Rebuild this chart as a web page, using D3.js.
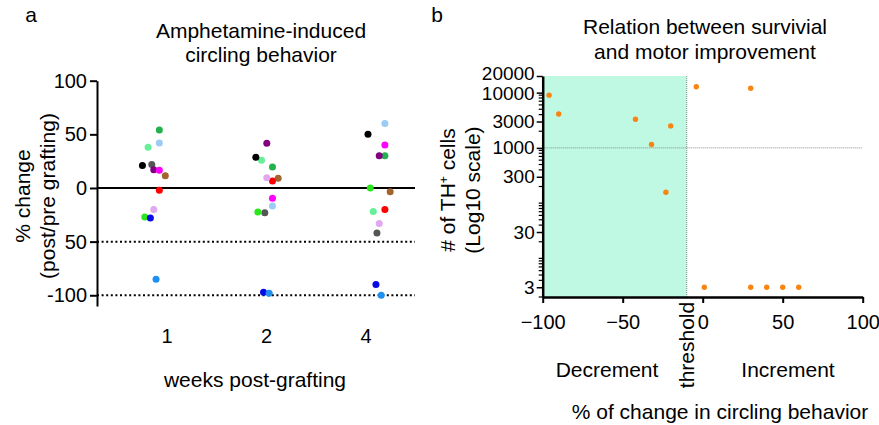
<!DOCTYPE html>
<html>
<head>
<meta charset="utf-8">
<script src="https://cdn.jsdelivr.net/npm/d3@7"></script>
<style>
  body { margin: 0; background: #fff; }
  text { font-family: "Liberation Sans", Arial, sans-serif; fill: #000; }
</style>
</head>
<body>
<div id="chart"></div>
<script>
// ---- panel a data: % change per animal, per week ----
const weeks = ["1", "2", "4"];
const animalColors = ["#22b14c", "#66f09a", "#9ccbf5", "#000000", "#555555", "#800080",
                      "#ff00ff", "#a2652f", "#ff0000", "#e0a8f0", "#2be61c", "#0a0ae6", "#2090f0"];
const week1 = [54, 38, 42, 21, 22, 17, 16.5, 11.5, -2, -20, -27, -28, -85];
const week2 = [19.6, 25.8, -16.8, 28.6, -23, 41.7, -9.6, 9, 6.5, 9.6, -22.4, -97.3, -98];
const week4 = [30, -22, 60, 50, -42, 30, 40, -3.4, -20, -33, 0, -90, -100];
// horizontal jitter, in fractions of a category step
const jitter1 = [-0.077, -0.19, -0.077, -0.247, -0.153, -0.133, -0.077, -0.017, -0.077, -0.133, -0.223, -0.167, -0.11];
const jitter2 = [0.06, -0.05, 0.06, -0.107, -0.017, 0.003, 0.06, 0.117, 0.06, 0.003, -0.087, -0.03, 0.027];
const jitter4 = [0.19, 0.073, 0.19, 0.02, 0.11, 0.133, 0.19, 0.243, 0.19, 0.133, 0.043, 0.10, 0.153];
const aTicks = [100, 50, 0, -50, -100];
const aTickLabels = ["100", "50", "0", "50", "-100"];
const aRefLines = [-50, -100];

// ---- panel b data: circling change vs TH+ cells ----
const survX = [-96, -90, -42, -32, -20, -23, -4, 30, 1, 30, 40, 50, 60];
const survY = [9000, 4100, 3300, 1150, 2500, 157, 12800, 12000, 3, 3, 3, 3, 3];
const bXTicks = [-100, -50, 0, 50, 100];
const bYTicks = [3, 30, 300, 1000, 3000, 10000, 20000];
const threshold = -10;
const cellLine = 1000;

const W = 879, H = 425;
const svg = d3.select("#chart").append("svg").attr("width", W).attr("height", H);

// ================= panel a =================
const ya = d3.scaleLinear().domain([-110, 100]).range([306, 80.7]);
const xa = d3.scalePoint().domain(weeks).range([167, 366]);
const step = xa.step();
const aLeft = 97, aRight = 415;

svg.append("text").attr("x", 31).attr("y", 22).attr("text-anchor", "middle")
  .style("font-size", "21px").text("a");
svg.append("text").attr("x", 261).attr("y", 38).attr("text-anchor", "middle")
  .style("font-size", "21px").text("Amphetamine-induced");
svg.append("text").attr("x", 261).attr("y", 62).attr("text-anchor", "middle")
  .style("font-size", "21px").text("circling behavior");

// reference lines
svg.selectAll(".refA").data(aRefLines).enter().append("line")
  .attr("x1", aLeft).attr("x2", aRight)
  .attr("y1", d => ya(d)).attr("y2", d => ya(d))
  .attr("stroke", "#000").attr("stroke-width", 2).attr("stroke-dasharray", "2,2.6");
svg.append("line").attr("x1", aLeft).attr("x2", aRight)
  .attr("y1", ya(0)).attr("y2", ya(0)).attr("stroke", "#000").attr("stroke-width", 2);

// y axis
const yAxisA = svg.append("g").attr("transform", `translate(${aLeft},0)`)
  .call(d3.axisLeft(ya).tickValues(aTicks).tickFormat((d, i) => aTickLabels[i])
    .tickSize(7).tickSizeOuter(0).tickPadding(3));
yAxisA.select(".domain").attr("stroke-width", 2);
yAxisA.selectAll(".tick line").attr("stroke-width", 2);
yAxisA.selectAll("text").style("font-size", "20px").attr("font-family", "Liberation Sans");

svg.append("text").attr("transform", "translate(23,196) rotate(-90)")
  .attr("text-anchor", "middle").attr("dy", "0.35em").style("font-size", "21px").text("% change");
svg.append("text").attr("transform", "translate(48,196) rotate(-90)")
  .attr("text-anchor", "middle").attr("dy", "0.35em").style("font-size", "21px").text("(post/pre grafting)");

// x tick labels (no axis line)
svg.selectAll(".wk").data(weeks).enter().append("text")
  .attr("x", d => xa(d)).attr("y", 343).attr("text-anchor", "middle")
  .style("font-size", "20px").text(d => d);
svg.append("text").attr("x", 255).attr("y", 387).attr("text-anchor", "middle")
  .style("font-size", "21px").text("weeks post-grafting");

// dots
const weekSeries = [
  { week: "1", values: week1, jitter: jitter1 },
  { week: "2", values: week2, jitter: jitter2 },
  { week: "4", values: week4, jitter: jitter4 }
];
weekSeries.forEach(s => {
  svg.append("g").selectAll("circle")
    .data(s.values.map((v, i) => ({ v, j: s.jitter[i], c: animalColors[i] })))
    .enter().append("circle")
    .attr("cx", d => xa(s.week) + d.j * step)
    .attr("cy", d => ya(d.v))
    .attr("r", 3.5)
    .attr("fill", d => d.c);
});

// ================= panel b =================
const xb = d3.scaleLinear().domain([-100, 100]).range([542.7, 862.7]);
const yb = d3.scaleLog().domain([2, 20000]).range([297, 76]);

svg.append("text").attr("x", 437).attr("y", 22).attr("text-anchor", "middle")
  .style("font-size", "21px").text("b");
svg.append("text").attr("x", 705).attr("y", 34).attr("text-anchor", "middle")
  .style("font-size", "21px").text("Relation between survivial");
svg.append("text").attr("x", 705).attr("y", 59).attr("text-anchor", "middle")
  .style("font-size", "21px").text("and motor improvement");

// decrement zone
svg.append("rect")
  .attr("x", xb(-100)).attr("y", yb(20000))
  .attr("width", xb(threshold) - xb(-100)).attr("height", yb(2) - yb(20000))
  .attr("fill", "#c0f9e3");
svg.append("line")
  .attr("x1", xb(threshold)).attr("x2", xb(threshold))
  .attr("y1", yb(20000)).attr("y2", yb(2))
  .attr("stroke", "#8a8a8a").attr("stroke-width", 1).attr("stroke-dasharray", "1,1");
svg.append("line")
  .attr("x1", xb(-100)).attr("x2", xb(100))
  .attr("y1", yb(cellLine)).attr("y2", yb(cellLine))
  .attr("stroke", "#8a8a8a").attr("stroke-width", 1).attr("stroke-dasharray", "1,1");

// minor log ticks
const minorTicks = [];
for (let p = 0; p <= 4; p++) {
  for (let k = 1; k <= 9; k++) {
    const v = k * Math.pow(10, p);
    if (v >= 2 && v <= 20000 && !bYTicks.includes(v)) minorTicks.push(v);
  }
}
svg.append("g").selectAll("line").data(minorTicks).enter().append("line")
  .attr("x1", xb(-100) - 4).attr("x2", xb(-100))
  .attr("y1", d => yb(d)).attr("y2", d => yb(d))
  .attr("stroke", "#000").attr("stroke-width", 1.2);

const yAxisB = svg.append("g").attr("transform", `translate(${xb(-100)},0)`)
  .call(d3.axisLeft(yb).tickValues(bYTicks).tickFormat(d3.format("d"))
    .tickSize(6).tickSizeOuter(0).tickPadding(2));
yAxisB.select(".domain").attr("stroke-width", 2.5);
yAxisB.selectAll(".tick line").attr("stroke-width", 1.5);
yAxisB.selectAll("text").style("font-size", "19px").attr("font-family", "Liberation Sans")
  .attr("dy", d => d === 20000 ? "0.2em" : d === 10000 ? "0.38em" : "0.32em");

const xAxisB = svg.append("g").attr("transform", `translate(0,${yb(2)})`)
  .call(d3.axisBottom(xb).tickValues(bXTicks).tickSize(6).tickSizeOuter(0).tickPadding(12));
xAxisB.select(".domain").attr("stroke-width", 2.5);
xAxisB.selectAll(".tick line").attr("stroke-width", 2);
xAxisB.selectAll("text").style("font-size", "20px").attr("font-family", "Liberation Sans");

svg.append("text").attr("transform", "translate(448,190) rotate(-90)")
  .attr("text-anchor", "middle").attr("dy", "0.35em").style("font-size", "21px")
  .call(t => {
    t.append("tspan").text("# of TH");
    t.append("tspan").attr("baseline-shift", "super").style("font-size", "12px").text("+");
    t.append("tspan").text(" cells");
  });
svg.append("text").attr("transform", "translate(473,190) rotate(-90)")
  .attr("text-anchor", "middle").attr("dy", "0.35em").style("font-size", "21px").text("(Log10 scale)");

svg.append("text").attr("transform", `translate(${xb(threshold)},345) rotate(-90)`)
  .attr("text-anchor", "middle").attr("dy", "0.35em").style("font-size", "21px").text("threshold");
svg.append("text").attr("x", 607).attr("y", 377).attr("text-anchor", "middle")
  .style("font-size", "21px").text("Decrement");
svg.append("text").attr("x", 788).attr("y", 377).attr("text-anchor", "middle")
  .style("font-size", "21px").text("Increment");
svg.append("text").attr("x", 720).attr("y", 419).attr("text-anchor", "middle")
  .style("font-size", "21px").text("% of change in circling behavior");

svg.append("g").selectAll("circle")
  .data(survX.map((x, i) => ({ x, y: survY[i] })))
  .enter().append("circle")
  .attr("cx", d => xb(d.x)).attr("cy", d => yb(d.y))
  .attr("r", 2.7).attr("fill", "#f88414");
</script>
</body>
</html>
